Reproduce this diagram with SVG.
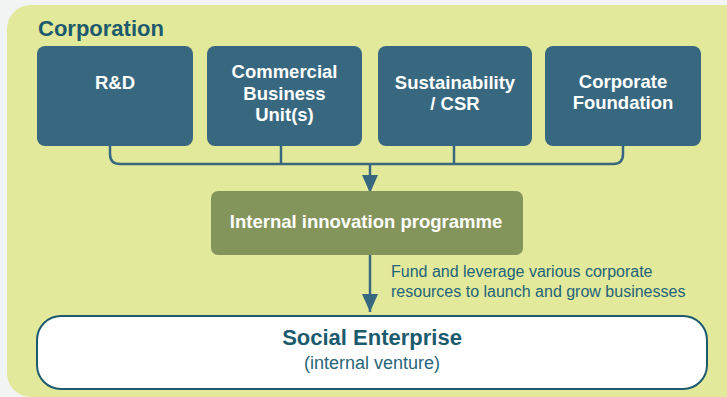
<svg xmlns="http://www.w3.org/2000/svg" width="727" height="397" viewBox="0 0 727 397">
<style>
.dept{fill:#386880}
.dt{font-family:"Liberation Sans",Arial,sans-serif;font-weight:bold;font-size:18.5px;fill:#ffffff;text-anchor:middle}
.conn{fill:none;stroke:#386880;stroke-width:2.5}
.lbl{font-family:"Liberation Sans",Arial,sans-serif;font-size:16px;fill:#23637a}
</style>
<defs>
<marker id="arr" viewBox="0 0 18 16" refX="18" refY="8" markerWidth="18" markerHeight="16" markerUnits="userSpaceOnUse" orient="auto">
<path d="M0,0 L18,8 L0,16 Z" fill="#386880"/>
</marker>
</defs>
<rect x="0" y="0" width="727" height="397" fill="#f2f3f3"/>
<g id="corporation">
<rect x="7" y="5" width="740" height="392" rx="24" fill="#e2e99a"/>
<text x="38" y="36" font-family="Liberation Sans,Arial,sans-serif" font-weight="bold" font-size="22" fill="#1d5a6e">Corporation</text>
</g>
<g id="connectors">
<path class="conn" d="M110,145 V154 Q110,164 120,164 H613 Q623,164 623,154 V145"/>
<path class="conn" d="M281,145 V164 M454,145 V164"/>
<path class="conn" d="M370,164 V193" marker-end="url(#arr)"/>
<path class="conn" d="M370,255 V312" marker-end="url(#arr)"/>
<text class="lbl" x="391" y="277">Fund and leverage various corporate</text>
<text class="lbl" x="391" y="297">resources to launch and grow businesses</text>
</g>
<g id="rd">
<rect class="dept" x="37" y="46" width="156" height="100" rx="8"/>
<text class="dt" x="115" y="89">R&amp;D</text>
</g>
<g id="commercial">
<rect class="dept" x="207" y="46" width="155" height="100" rx="8"/>
<text class="dt" x="284.5" y="78">Commercial</text>
<text class="dt" x="284.5" y="99.5">Business</text>
<text class="dt" x="284.5" y="121">Unit(s)</text>
</g>
<g id="sustainability">
<rect class="dept" x="378" y="46" width="154" height="100" rx="8"/>
<text class="dt" x="455" y="89">Sustainability</text>
<text class="dt" x="455" y="110">/ CSR</text>
</g>
<g id="foundation">
<rect class="dept" x="545" y="46" width="156" height="100" rx="8"/>
<text class="dt" x="623" y="88">Corporate</text>
<text class="dt" x="623" y="109">Foundation</text>
</g>
<g id="programme">
<rect x="211" y="191" width="312" height="64" rx="7" fill="#84955c"/>
<text class="dt" x="366" y="228">Internal innovation programme</text>
</g>
<g id="social-enterprise">
<rect x="37" y="316" width="670" height="73" rx="24" fill="#ffffff" stroke="#1d5a70" stroke-width="2"/>
<text x="372" y="345" font-family="Liberation Sans,Arial,sans-serif" font-weight="bold" font-size="22" fill="#1c5a6e" text-anchor="middle">Social Enterprise</text>
<text x="372" y="369" font-family="Liberation Sans,Arial,sans-serif" font-size="18" fill="#2a6578" text-anchor="middle">(internal venture)</text>
</g>
</svg>
